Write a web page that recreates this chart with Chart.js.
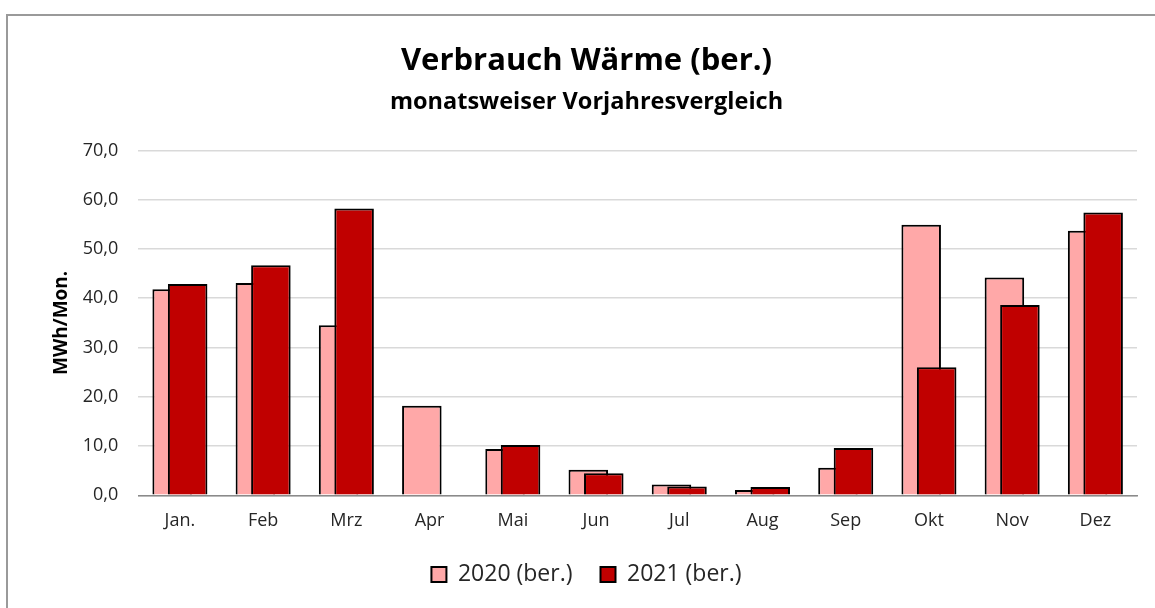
<!DOCTYPE html>
<html>
<head>
<meta charset="utf-8">
<script src="https://cdn.jsdelivr.net/npm/chart.js@4.4.1/dist/chart.umd.min.js"></script>
<style>
    html, body { margin: 0; padding: 0; background: #fff; overflow: hidden; }
    .frame { position: absolute; left: 6px; top: 14px; width: 1300px; height: 800px; border: 2px solid #9a9a9a; }
    .wrap { position: absolute; left: 0; top: 0; width: 1155px; height: 608px; }
</style>
</head>
<body>
<div class="frame"></div>
<div class="wrap">
    <canvas id="heatChart" width="1155" height="608"></canvas>
</div>
<script>
const months = ['Jan.', 'Feb', 'Mrz', 'Apr', 'Mai', 'Jun', 'Jul', 'Aug', 'Sep', 'Okt', 'Nov', 'Dez'];
const values2020 = [41.8, 43.1, 34.5, 18.2, 9.4, 5.2, 2.2, 1.1, 5.6, 54.9, 44.2, 53.7];
const values2021 = [42.9, 46.7, 58.2, null, 10.2, 4.5, 1.8, 1.7, 9.6, 26.0, 38.6, 57.4];
const yTicks = [0, 10, 20, 30, 40, 50, 60, 70];
const yTickLabels = ['0,0', '10,0', '20,0', '30,0', '40,0', '50,0', '60,0', '70,0'];

const font = "'Open Sans', 'DejaVu Sans', sans-serif";
const textColor = '#262626';

// chart.js paints the first dataset last; the 2021 bars have to sit in front of 2020
const frontDataset = 1;
const drawOrderPlugin = {
    id: 'drawOrder',
    beforeDatasetDraw(chart, args) {
        if (args.index === frontDataset && !chart._frontPass) {
            return false;
        }
    },
    afterDatasetsDraw(chart) {
        chart._frontPass = true;
        chart.getDatasetMeta(frontDataset).controller.draw();
        chart._frontPass = false;
    }
};

let ctx = document.getElementById('heatChart');

new Chart(ctx, {
    type: 'bar',
    data: {
        labels: months,
        datasets: [
            {
                label: '2020 (ber.)',
                data: values2020,
                backgroundColor: '#ffa8a8',
                borderColor: '#000000',
                borderWidth: 2
            },
            {
                label: '2021 (ber.)',
                data: values2021,
                backgroundColor: '#c00000',
                borderColor: '#000000',
                borderWidth: 2
            }
        ]
    },
    plugins: [drawOrderPlugin],
    options: {
        responsive: false,
        animation: false,
        categoryPercentage: 0.3725,
        barPercentage: 2.55,
        layout: {
            padding: {left: 36, right: 18, top: 0, bottom: 12}
        },
        scales: {
            x: {
                grid: {display: false, drawTicks: false},
                border: {display: true, color: '#8a8a8a', width: 1.5},
                ticks: {
                    font: {family: font, size: 18},
                    color: textColor,
                    padding: 15,
                    maxRotation: 0
                },
                afterFit: (scale) => { scale.height = 39.7; }
            },
            y: {
                min: 0,
                max: 70,
                afterBuildTicks: (scale) => { scale.ticks = yTicks.map(v => ({value: v})); },
                grid: {color: '#d9d9d9', lineWidth: 1.5, drawTicks: false},
                border: {display: false},
                ticks: {
                    font: {family: font, size: 18},
                    color: textColor,
                    padding: 20,
                    callback: (value) => yTickLabels[yTicks.indexOf(value)]
                },
                title: {
                    display: true,
                    text: 'MWh/Mon.',
                    font: {family: font, size: 19, weight: 'bold'},
                    color: '#000',
                    padding: {top: 14, bottom: 0}
                },
                afterFit: (scale) => { scale.width = 102.3; }
            }
        },
        plugins: {
            title: {
                display: true,
                text: 'Verbrauch Wärme (ber.)',
                font: {family: font, size: 31, weight: 'bold'},
                color: '#000',
                padding: {top: 43, bottom: 0}
            },
            subtitle: {
                display: true,
                text: 'monatsweiser Vorjahresvergleich',
                font: {family: font, size: 23.5, weight: 'bold'},
                color: '#000',
                padding: {top: 8, bottom: 34}
            },
            legend: {
                display: true,
                position: 'bottom',
                labels: {
                    font: {family: font, size: 23},
                    color: textColor,
                    boxWidth: 15,
                    boxHeight: 15,
                    padding: 28
                }
            },
            tooltip: {enabled: false}
        }
    }
});
</script>
</body>
</html>
